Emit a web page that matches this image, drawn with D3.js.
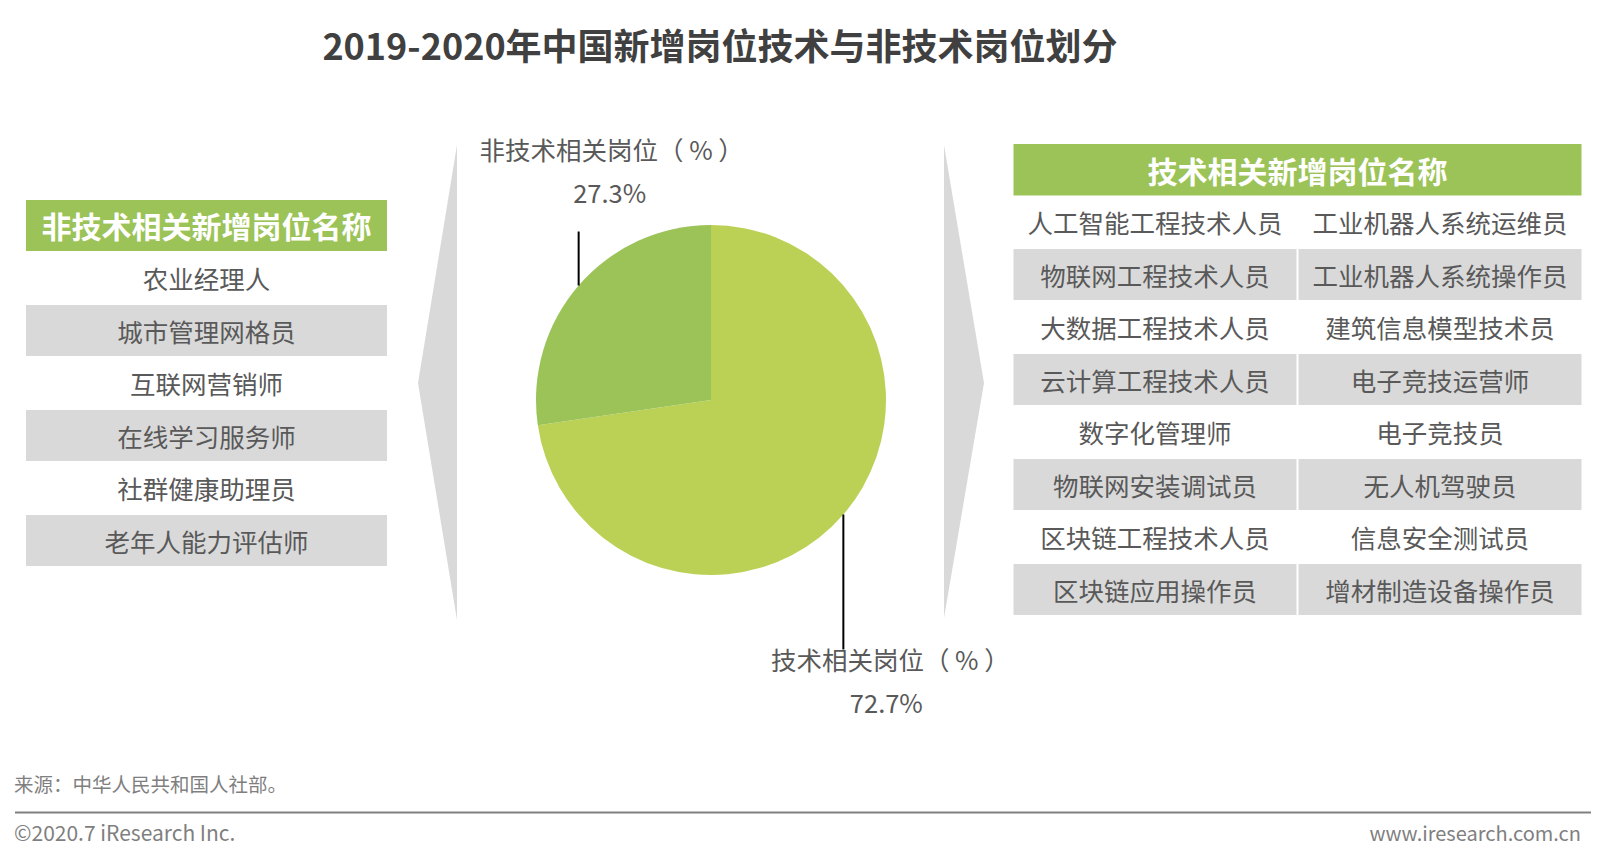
<!DOCTYPE html>
<html>
<head>
<meta charset="utf-8">
<script src="https://cdn.jsdelivr.net/npm/d3@7"></script>
<style>
  html, body { margin: 0; padding: 0; background: #ffffff; }
  svg { display: block; }
  text { font-family: "Noto Sans CJK SC", "Noto Sans", sans-serif; }
</style>
</head>
<body>
<svg id="chart" width="1607" height="860"></svg>
<script>
// ---------------- data ----------------
const titleText = "2019-2020年中国新增岗位技术与非技术岗位划分";
const categories = ["技术相关岗位（ % ）", "非技术相关岗位（ % ）"];
const shares = [72.7, 27.3];
const shareLabels = ["72.7%", "27.3%"];
const sliceColors = ["#BBD155", "#9BC357"];

const nonTechHeader = "非技术相关新增岗位名称";
const nonTechJobs = ["农业经理人", "城市管理网格员", "互联网营销师", "在线学习服务师", "社群健康助理员", "老年人能力评估师"];

const techHeader = "技术相关新增岗位名称";
const techJobsCol1 = ["人工智能工程技术人员", "物联网工程技术人员", "大数据工程技术人员", "云计算工程技术人员",
                      "数字化管理师", "物联网安装调试员", "区块链工程技术人员", "区块链应用操作员"];
const techJobsCol2 = ["工业机器人系统运维员", "工业机器人系统操作员", "建筑信息模型技术员", "电子竞技运营师",
                      "电子竞技员", "无人机驾驶员", "信息安全测试员", "增材制造设备操作员"];

const sourceText = "来源：中华人民共和国人社部。";
const copyrightText = "©2020.7 iResearch Inc.";
const siteText = "www.iresearch.com.cn";

// ---------------- drawing ----------------
const svg = d3.select("#chart");
const textColor = "#595959";
const gray = "#D9D9D9";
const green = "#9BC357";

// title
svg.append("text")
  .attr("x", 720).attr("y", 44)
  .attr("text-anchor", "middle").attr("dominant-baseline", "central")
  .attr("font-size", 36).attr("font-weight", "bold").attr("fill", "#404040")
  .text(titleText);

// chevrons
svg.append("path").attr("d", "M457,145 L418,383 L457,620 Z").attr("fill", gray);
svg.append("path").attr("d", "M944,145 L984,383 L944,618 Z").attr("fill", gray);

// ---- left table ----
const left = { x: 26, w: 361, headY: 200, headH: 51, rowY: 252.5, rowH: 52.5 };
svg.append("rect").attr("x", left.x).attr("y", left.headY).attr("width", left.w).attr("height", left.headH).attr("fill", green);
svg.append("text")
  .attr("x", left.x + left.w / 2).attr("y", left.headY + left.headH / 2 - 1)
  .attr("text-anchor", "middle").attr("dominant-baseline", "central")
  .attr("font-size", 30).attr("font-weight", "bold").attr("fill", "#ffffff")
  .text(nonTechHeader);

const leftRowScale = d3.scaleBand().domain(d3.range(nonTechJobs.length))
  .range([left.rowY, left.rowY + left.rowH * nonTechJobs.length]);
const lg = svg.append("g");
lg.selectAll("rect").data(d3.range(nonTechJobs.length).filter(i => i % 2 === 1)).join("rect")
  .attr("x", left.x).attr("y", i => leftRowScale(i))
  .attr("width", left.w).attr("height", left.rowH - 1.5)
  .attr("fill", gray);
lg.selectAll("text").data(nonTechJobs).join("text")
  .attr("x", left.x + left.w / 2)
  .attr("y", (d, i) => leftRowScale(i) + left.rowH / 2 - 1)
  .attr("text-anchor", "middle").attr("dominant-baseline", "central")
  .attr("font-size", 25.5).attr("fill", textColor)
  .text(d => d);

// ---- right table ----
const right = { x: 1013.5, w: 568, headY: 144, headH: 51.5, rowY: 196.5, rowH: 52.5, gap: 2 };
svg.append("rect").attr("x", right.x).attr("y", right.headY).attr("width", right.w).attr("height", right.headH).attr("fill", green);
svg.append("text")
  .attr("x", right.x + right.w / 2).attr("y", right.headY + right.headH / 2)
  .attr("text-anchor", "middle").attr("dominant-baseline", "central")
  .attr("font-size", 30).attr("font-weight", "bold").attr("fill", "#ffffff")
  .text(techHeader);

const colW = (right.w - right.gap) / 2;
const cols = [techJobsCol1, techJobsCol2];
const rightRowScale = d3.scaleBand().domain(d3.range(techJobsCol1.length))
  .range([right.rowY, right.rowY + right.rowH * techJobsCol1.length]);
cols.forEach((col, c) => {
  const cx = right.x + c * (colW + right.gap);
  const g = svg.append("g");
  g.selectAll("rect").data(col.map((d, i) => i).filter(i => i % 2 === 1)).join("rect")
    .attr("x", cx).attr("y", i => rightRowScale(i))
    .attr("width", colW).attr("height", right.rowH - 1.5)
    .attr("fill", gray);
  g.selectAll("text").data(col).join("text")
    .attr("x", cx + colW / 2)
    .attr("y", (d, i) => rightRowScale(i) + right.rowH / 2 - 1)
    .attr("text-anchor", "middle").attr("dominant-baseline", "central")
    .attr("font-size", 25.5).attr("fill", textColor)
    .text(d => d);
});

// ---- pie ----
const cx = 711, cy = 400, r = 175;
const pie = d3.pie().sort(null).value(d => d)(shares);
const arc = d3.arc().innerRadius(0).outerRadius(r);
const pg = svg.append("g").attr("transform", `translate(${cx},${cy})`);
pg.selectAll("path").data(pie).join("path")
  .attr("d", arc)
  .attr("fill", (d, i) => sliceColors[i]);

// leader lines + labels
const leaderLen = [135, -54];     // tech goes down, non-tech goes up
const labelDx = [47, 33];
const valueDx = [43, 31];
pie.forEach((d, i) => {
  const a = (d.startAngle + d.endAngle) / 2;
  const x = Math.sin(a) * r, y = -Math.cos(a) * r;
  const y2 = y + leaderLen[i];
  pg.append("line")
    .attr("x1", x).attr("y1", y).attr("x2", x).attr("y2", y2)
    .attr("stroke", "#000").attr("stroke-width", 2);
  let ly1, ly2;
  if (leaderLen[i] > 0) { ly1 = y2 + 9; ly2 = y2 + 52; }
  else { ly1 = y2 - 83; ly2 = y2 - 40; }
  pg.append("text")
    .attr("x", x + labelDx[i]).attr("y", ly1)
    .attr("text-anchor", "middle").attr("dominant-baseline", "central")
    .attr("font-size", 25.5).attr("fill", textColor)
    .text(categories[i]);
  pg.append("text")
    .attr("x", x + valueDx[i]).attr("y", ly2)
    .attr("text-anchor", "middle").attr("dominant-baseline", "central")
    .attr("font-size", 25.5).attr("fill", textColor)
    .text(shareLabels[i]);
});

// ---- footer ----
svg.append("text")
  .attr("x", 14).attr("y", 783)
  .attr("dominant-baseline", "central")
  .attr("font-size", 19.5).attr("fill", "#7F7F7F")
  .text(sourceText);
svg.append("line")
  .attr("x1", 15).attr("x2", 1591).attr("y1", 812.5).attr("y2", 812.5)
  .attr("stroke", "#808080").attr("stroke-width", 2);
svg.append("text")
  .attr("x", 14).attr("y", 832)
  .attr("dominant-baseline", "central")
  .attr("font-size", 21).attr("fill", "#7F7F7F")
  .text(copyrightText);
svg.append("text")
  .attr("x", 1581).attr("y", 832)
  .attr("text-anchor", "end").attr("dominant-baseline", "central")
  .attr("font-size", 20).attr("fill", "#7F7F7F")
  .text(siteText);
</script>
</body>
</html>
